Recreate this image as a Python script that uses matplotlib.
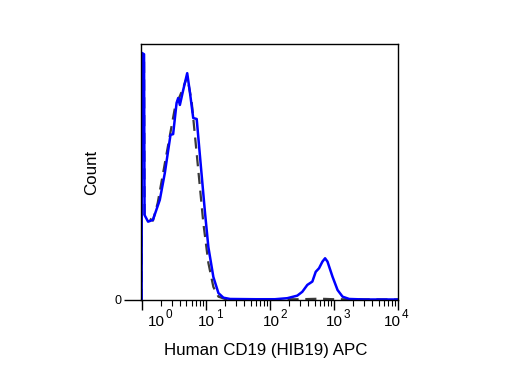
import numpy as np
import matplotlib
matplotlib.use("Agg")
import matplotlib.pyplot as plt
import matplotlib.transforms as mtrans

plt.rcParams['font.family'] = ['Liberation Sans', 'DejaVu Sans']

# Stained sample (blue, solid)
stained_x = [1.0, 1.01, 1.09, 1.11, 1.26, 1.50, 1.92, 2.30, 2.82, 3.10, 3.51, 3.72, 3.95,
             4.45, 5.14, 5.68, 6.38, 7.23, 8.15, 9.75, 10.99, 13.15, 15.78, 18.88, 24.0,
             60.0, 120.0, 187, 268, 321, 385, 461, 520, 586, 662, 728, 794, 951, 1140,
             1365, 1733, 3000, 10000]
stained_y = [0.0, 96.5, 96.0, 33.2, 30.6, 31.3, 39.1, 49.6, 64.5, 64.8, 77.0, 78.9, 76.2,
             82.0, 88.6, 80.9, 71.1, 70.7, 55.9, 34.0, 20.7, 9.0, 2.7, 0.9, 0.4,
             0.3, 0.3, 0.7, 1.7, 3.2, 5.9, 7.2, 11.0, 12.4, 15.0, 16.3, 15.0, 9.1, 3.9,
             1.3, 0.4, 0.2, 0.2]

# Control (dark gray, dashed)
control_x = [1.0, 1.01, 1.09, 1.11, 1.50, 1.78, 2.56, 3.30, 4.20, 5.14, 6.03, 7.65, 9.17,
             10.99, 13.15, 15.78, 20.0, 40.0, 300, 600, 1000, 10000]
control_y = [0.0, 95.0, 94.0, 33.0, 31.0, 37.9, 59.8, 75.0, 81.3, 87.2, 77.5, 50.8, 30.1,
             14.5, 5.1, 1.3, 0.4, 0.2, 0.3, 0.5, 0.3, 0.2]

decades = [0, 1, 2, 3, 4]
tick_label_base = ['10', '10', '10', '10', '10']
tick_label_exp = ['0', '1', '2', '3', '4']

W, H = 517, 388
fig = plt.figure(figsize=(W / 100, H / 100), dpi=100)
L, R, T, B = 141, 398, 44, 300
ax = fig.add_axes([L / W, 1 - B / H, (R - L) / W, (B - T) / H])

ax.plot(control_x, control_y, color='#3a3a3a', lw=1.6, dashes=(5, 3))
ax.plot(stained_x, stained_y, color='#0000ff', lw=1.8)

ax.set_xscale('log')
ax.set_xlim(10 ** -0.01, 10 ** 4)
ax.set_ylim(0, 100)

for s in ax.spines.values():
    s.set_linewidth(1.0)
    s.set_color('black')

ax.set_xticks([10 ** d for d in decades])
ax.set_xticklabels([])
ax.xaxis.set_minor_locator(matplotlib.ticker.LogLocator(base=10, subs=np.arange(2, 10)))
ax.xaxis.set_minor_formatter(matplotlib.ticker.NullFormatter())
ax.tick_params(axis='x', which='major', direction='out', length=7, width=1)
ax.tick_params(axis='x', which='minor', direction='out', length=4, width=0.8)
ax.set_yticks([0])
ax.set_yticklabels(['0'], fontsize=9)
ax.tick_params(axis='y', which='major', direction='out', length=12, width=1, pad=2)

offsets = [6, -8, -7, -8, -14]
for d, b, e, off in zip(decades, tick_label_base, tick_label_exp, offsets):
    tr = ax.get_xaxis_transform() + mtrans.ScaledTranslation(off / 100, 0, fig.dpi_scale_trans)
    t = ax.text(10 ** d, (B - 326.5) / (B - T), b, transform=tr,
                ha='left', va='baseline', fontsize=11)
    tr2 = ax.get_xaxis_transform() + mtrans.ScaledTranslation((off + 18) / 100, 0, fig.dpi_scale_trans)
    ax.text(10 ** d, (B - 318) / (B - T), e, transform=tr2,
            ha='left', va='baseline', fontsize=8.5)

fig.text(266 / W, 1 - 350 / H, 'Human CD19 (HIB19) APC', ha='center', va='center', fontsize=12.2)
fig.text(92 / W, 1 - 172 / H, 'Count', ha='center', va='center', rotation=90, fontsize=12.2)

fig.savefig('out.png', dpi=100)
